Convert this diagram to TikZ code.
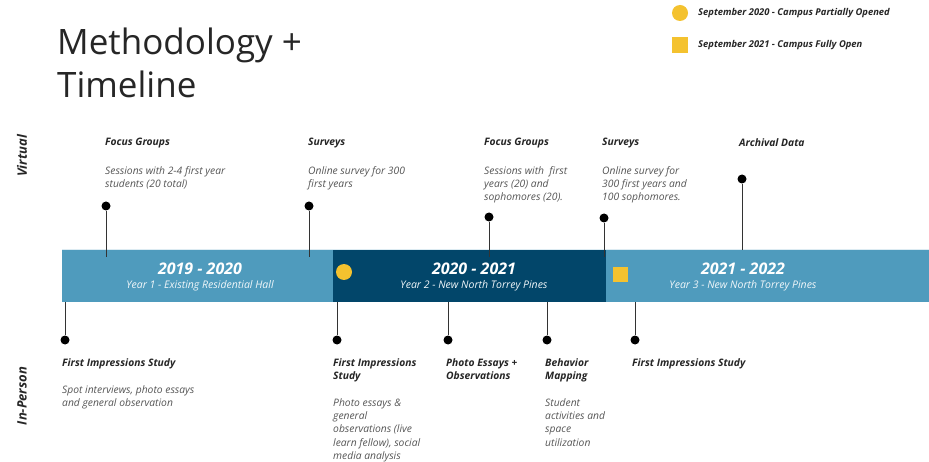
\documentclass[tikz,border=0pt]{standalone}
\usepackage{fontspec}
\setmainfont{Open Sans}
\newfontfamily\titlefont{Open Sans}
\usetikzlibrary{calc}
\definecolor{lightbar}{HTML}{4F9BBD}
\definecolor{darkbar}{HTML}{02466A}
\definecolor{goldc}{HTML}{F4C22F}
\definecolor{bodygray}{HTML}{555555}
\definecolor{linegray}{HTML}{333333}
\tikzset{
  seg/.style={draw=none,inner sep=0,minimum height=52pt,anchor=north west},
  dotm/.style={circle,fill=black,inner sep=0,minimum size=9pt},
  stem/.style={draw=linegray,line width=0.8pt},
  head/.style={anchor=north west,inner sep=0,font=\fontsize{10.3}{13.4}\selectfont\bfseries\itshape,align=left,text=black!85},
  body/.style={anchor=north west,inner sep=0,font=\fontsize{10.3}{13.4}\selectfont\itshape,align=left,text=bodygray},
  yeart/.style={inner sep=0,font=\fontsize{16}{18}\selectfont\bfseries\itshape,text=white},
  years/.style={inner sep=0,font=\fontsize{10.5}{12}\selectfont\itshape,text=white!92!lightbar},
  side/.style={inner sep=0,rotate=90,font=\fontsize{13}{15}\selectfont\itshape\bfseries,text=black!85},
  legt/.style={anchor=west,inner sep=0,font=\fontsize{9.4}{11}\selectfont\bfseries\itshape,text=black!85}
}
\begin{document}
\begin{tikzpicture}[x=1pt,y=-1pt]
\useasboundingbox (0,0) rectangle (929,462);
\fill[white] (0,0) rectangle (929,462);
% title
\node[anchor=north west,inner sep=0,align=left,font=\titlefont\fontsize{35}{43}\selectfont,text=black!85] (title) at (57,28) {Methodology +\\Timeline};
% legend
\node[circle,fill=goldc,inner sep=0,minimum size=16pt] (lc) at (680,13) {};
\node[legt] (lct) at (698,13) {September 2020 - Campus Partially Opened};
\node[fill=goldc,inner sep=0,minimum size=16pt] (ls) at (680,45) {};
\node[legt] (lst) at (698,45) {September 2021 - Campus Fully Open};
% side labels
\node[side] (virt) at (22,156) {Virtual};
\node[side] (inp) at (22,396) {In-Person};
% bar
\node[seg,fill=lightbar,minimum width=271pt] (b1) at (62,250) {};
\node[seg,fill=darkbar,minimum width=273pt] (b2) at (333,250) {};
\node[seg,fill=lightbar,minimum width=323pt] (b3) at (606,250) {};
\draw[white!80!lightbar,line width=1pt] (b1.north west) -- (b3.north east);
\node[yeart] (y1) at (200,269) {2019 - 2020};
\node[years] (s1) at (200,286) {Year 1 - Existing Residential Hall};
\node[yeart] (y2) at (474,269) {2020 - 2021};
\node[years] (s2) at (474,286) {Year 2 - New North Torrey Pines};
\node[yeart] (y3) at (743,269) {2021 - 2022};
\node[years] (s3) at (743,286) {Year 3 - New North Torrey Pines};
\node[circle,fill=goldc,inner sep=0,minimum size=16pt] (mc) at (344,272) {};
\node[fill=goldc,inner sep=0,minimum size=15pt] (ms) at (620,275) {};
% top markers
\node[dotm] (t1) at (106,206) {};
\node[dotm] (t2) at (309,206) {};
\node[dotm] (t3) at (489,217) {};
\node[dotm] (t4) at (604,218) {};
\node[dotm] (t5) at (742,179) {};
\draw[stem] (t1) -- ($(t1 |- b1.north)+(0,7)$);
\draw[stem] (t2) -- ($(t2 |- b1.north)+(0,7)$);
\draw[stem] (t3) -- ($(t3 |- b2.north)+(0,7)$);
\draw[stem] (t4) -- ($(t4 |- b2.north)+(0,7)$);
\draw[stem] (t5) -- (t5 |- b3.north);
% bottom markers
\node[dotm] (u1) at (65,340) {};
\node[dotm] (u2) at (337,340) {};
\node[dotm] (u3) at (448,340) {};
\node[dotm] (u4) at (547,340) {};
\node[dotm] (u5) at (635,340) {};
\draw[stem] (u1) -- (u1 |- b1.south);
\draw[stem] (u2) -- (u2 |- b2.south);
\draw[stem] (u3) -- (u3 |- b2.south);
\draw[stem] (u4) -- (u4 |- b2.south);
\draw[stem] (u5) -- (u5 |- b3.south);
% top labels
\node[head] (h1) at (105,138) {Focus Groups};
\node[body] (d1) at (105,166) {Sessions with 2-4 first year\\students (20 total)};
\node[head] (h2) at (308,138) {Surveys};
\node[body] (d2) at (308,166) {Online survey for 300\\first years};
\node[head] (h3) at (484,138) {Focus Groups};
\node[body] (d3) at (484,166) {Sessions with\ \ first\\years (20) and\\sophomores (20).};
\node[head] (h4) at (602,138) {Surveys};
\node[body] (d4) at (602,166) {Online survey for\\300 first years and\\100 sophomores.};
\node[head] (h5) at (739,138) {Archival Data};
% bottom labels
\node[head] (f1) at (62,358) {First Impressions Study};
\node[body] (g1) at (62,385) {Spot interviews, photo essays\\and general observation};
\node[head] (f2) at (333,358) {First Impressions\\Study};
\node[body] (g2) at (333,398) {Photo essays \&\\general\\observations (live\\learn fellow), social\\media analysis};
\node[head] (f3) at (446,358) {Photo Essays +\\Observations};
\node[head] (f4) at (545,358) {Behavior\\Mapping};
\node[body] (g4) at (545,398) {Student\\activities and\\space\\utilization};
\node[head] (f5) at (632,358) {First Impressions Study};
\end{tikzpicture}
\end{document}
